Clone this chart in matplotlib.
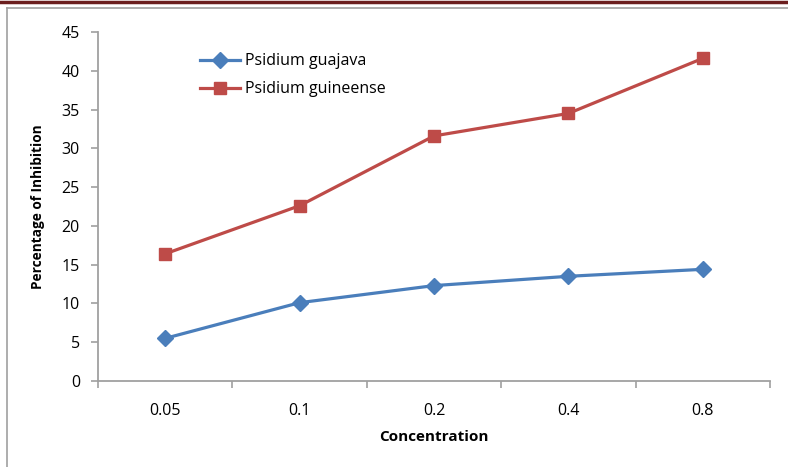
import matplotlib
matplotlib.use('Agg')
import matplotlib.pyplot as plt
from matplotlib.lines import Line2D

plt.rcParams['font.family'] = ['Open Sans', 'DejaVu Sans']

concentration = ['0.05', '0.1', '0.2', '0.4', '0.8']
guajava = [5.5, 10.1, 12.3, 13.5, 14.4]
guineense = [16.4, 22.6, 31.6, 34.5, 41.6]

fig = plt.figure(figsize=(7.88, 4.67), dpi=100)
ax = fig.add_axes([98/788, 1-381/467, (770-98)/788, (381-32)/467])

x = range(len(concentration))
ax.plot(x, guajava, color='#4a7ebb', lw=2.3, marker='D', ms=8, label='Psidium guajava')
ax.plot(x, guineense, color='#be4b48', lw=2.3, marker='s', ms=9, label='Psidium guineense')

ax.set_xlim(-0.5, 4.5)
ax.set_ylim(0, 45)
ax.set_yticks(range(0, 46, 5))
ax.set_xticks([i - 0.5 for i in range(6)])
ax.set_xticklabels([])
ax.set_xticks(list(x), minor=True)
ax.set_xticklabels(concentration, minor=True)
ax.tick_params(axis='x', which='minor', length=0, pad=16, labelsize=11.5)
ax.tick_params(axis='x', which='major', length=5, color='#a0a0a0', width=1.2)
ax.tick_params(axis='y', length=5, color='#a0a0a0', width=1.2, labelsize=11.5, pad=8)

for s in ['top', 'right']:
    ax.spines[s].set_visible(False)
for s in ['left', 'bottom']:
    ax.spines[s].set_color('#a0a0a0')
    ax.spines[s].set_linewidth(1.3)

ax.set_xlabel('Concentration', fontweight='bold', fontsize=11, labelpad=8)
ax.set_ylabel('Percentage of Inhibition', fontweight='bold', fontsize=9.8, labelpad=12)

ax.legend(loc='upper left', bbox_to_anchor=(186/788, 1-39/467), bbox_transform=fig.transFigure,
          frameon=False, fontsize=11.5, handlelength=2.5, labelspacing=0.75, handletextpad=0.3)

# page borders
fig.add_artist(Line2D([0, 1], [1-1.5/467, 1-1.5/467], color='#6b1e1e', lw=2.5))
fig.add_artist(Line2D([7/788, 1], [1-8/467, 1-8/467], color='#a0a0a0', lw=1.2))
fig.add_artist(Line2D([7/788, 7/788], [0, 1-8/467], color='#a0a0a0', lw=1.2))

fig.savefig('out.png', dpi=100)
